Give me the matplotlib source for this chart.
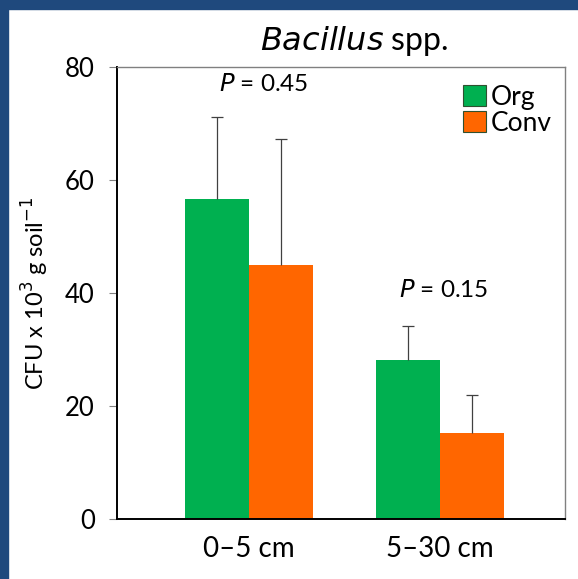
import matplotlib.pyplot as plt
import numpy as np
from matplotlib.patches import Rectangle

# data
depths = ["0\u20135 cm", "5\u201330 cm"]
org_means = [56.6, 28.1]
org_err = [14.5, 6.1]
conv_means = [45.0, 15.2]
conv_err = [22.3, 6.7]
p_labels = ["0.45", "0.15"]
p_heights = [77, 40.5]
y_ticks = [0, 20, 40, 60, 80]

plt.rcParams['font.family'] = ['Lato', 'DejaVu Sans']

fig = plt.figure(figsize=(5.78, 5.79), dpi=100)
ax = fig.add_axes([117 / 578, 60 / 579, 448 / 578, 452 / 579])

x = np.arange(len(depths))
w = 0.335
green = '#00B050'
orange = '#FF6600'

ax.bar(x - w / 2, org_means, w, color=green, label='Org')
ax.bar(x + w / 2, conv_means, w, color=orange, label='Conv')

# upper error bars only (stem + cap)
cap = 0.03
for xs, m, e in [(x - w / 2, org_means, org_err), (x + w / 2, conv_means, conv_err)]:
    top = np.array(m) + np.array(e)
    ax.vlines(xs, m, top, color='#404040', lw=0.9)
    ax.hlines(top, xs - cap, xs + cap, color='#404040', lw=0.9)

for xi, p, h in zip(x, p_labels, p_heights):
    ax.text(xi + (0.08 if xi == 0 else 0.02), h, '$\\it{P}$ = ' + p,
            ha='center', va='center', fontsize=17.5)

ax.set_xlim(-0.69, 1.655)
ax.set_ylim(0, 80)
ax.set_yticks(y_ticks)
ax.set_xticks(x)
ax.set_xticklabels(depths, fontsize=20)
ax.tick_params(axis='x', length=0, pad=12)
ax.tick_params(axis='y', labelsize=18.5, length=6, color='#808080', pad=10)

for s in ['left', 'bottom']:
    ax.spines[s].set_color('black')
    ax.spines[s].set_linewidth(1.4)
for s in ['top', 'right']:
    ax.spines[s].set_color('#808080')
    ax.spines[s].set_linewidth(1.0)

ax.set_ylabel('CFU x 10$^{3}$ g soil$^{-1}$', fontsize=17, labelpad=10)
ax.set_title('$\\it{Bacillus}$ spp.', fontsize=23, pad=12, x=0.53)

leg = ax.legend(loc='upper right', frameon=False, fontsize=19,
                handlelength=0.85, handleheight=0.85, handletextpad=0.2,
                labelspacing=0.05, borderaxespad=0.1,
                bbox_to_anchor=(1.0, 0.99))
for h in leg.legend_handles:
    h.set_edgecolor('#305030')
    h.set_linewidth(0.8)

# dark blue slide border (left and top)
border = '#1F497D'
fig.patches.append(Rectangle((0, 0), 8 / 578, 1, transform=fig.transFigure,
                             color=border, zorder=10))
fig.patches.append(Rectangle((0, 1 - 9 / 579), 1, 9 / 579, transform=fig.transFigure,
                             color=border, zorder=10))

fig.savefig('out.png', dpi=100)
